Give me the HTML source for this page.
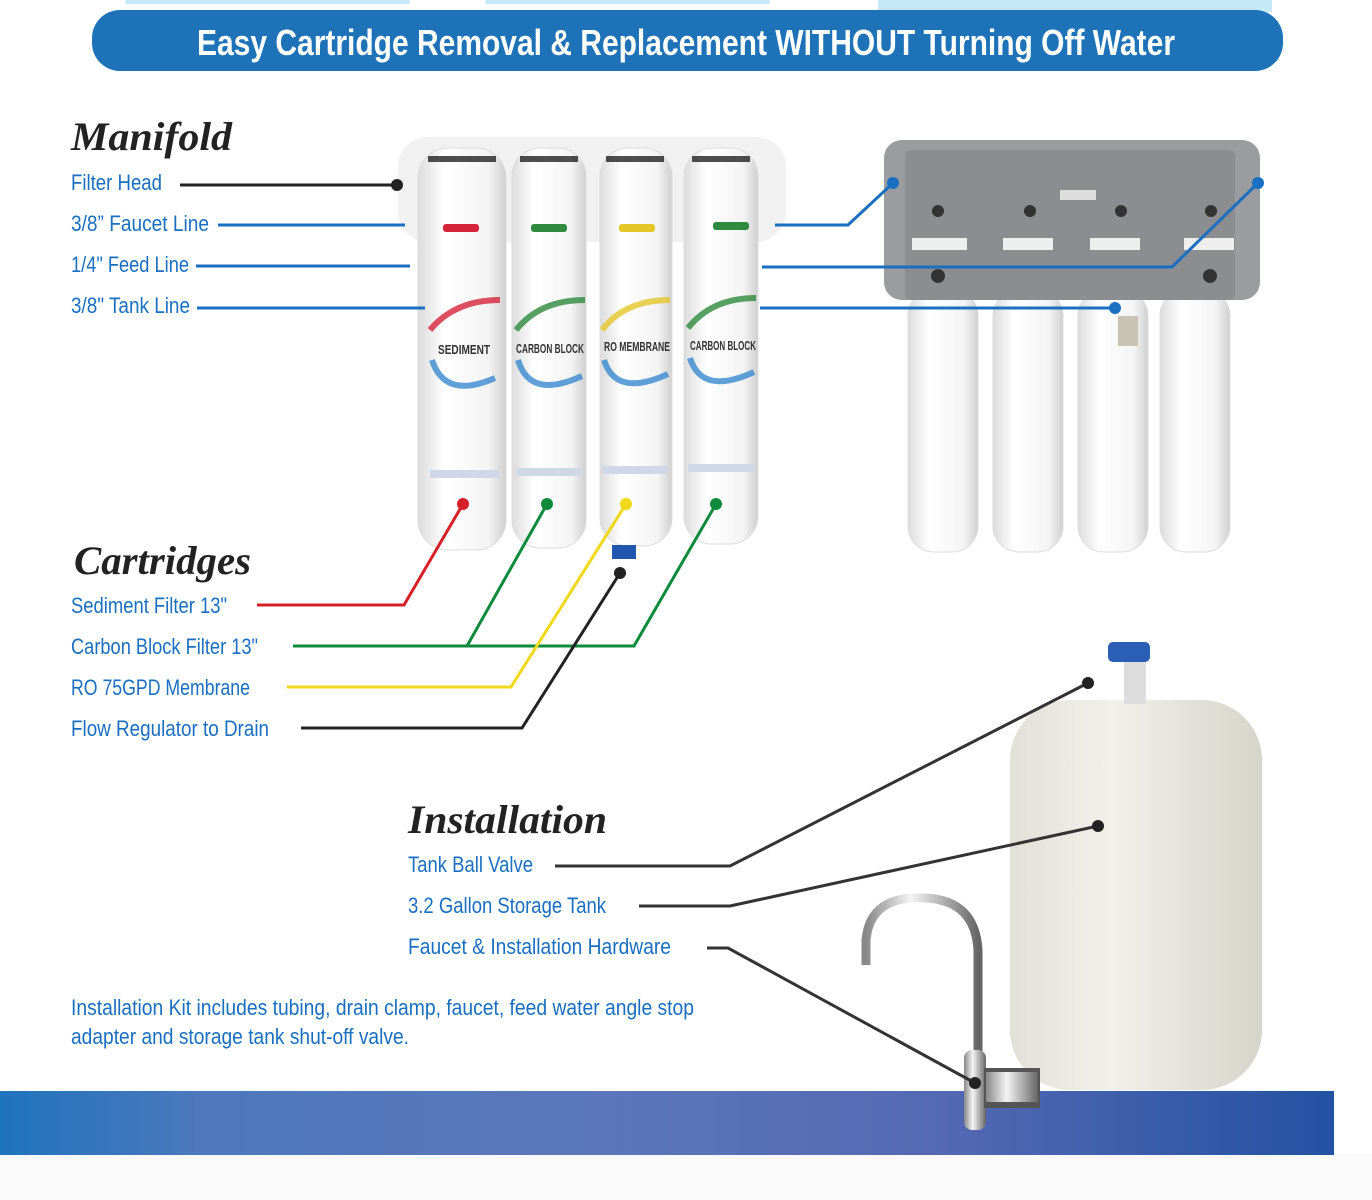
<!DOCTYPE html>
<html><head><meta charset="utf-8"><style>
html,body{margin:0;padding:0;background:#fff;}
body{width:1372px;height:1200px;overflow:hidden;position:relative;}
svg{position:absolute;left:0;top:0;}
.l{font-family:"Liberation Sans Narrow","Liberation Sans",sans-serif;font-size:22px;fill:#1a6fc0;}
.h{font-family:"Liberation Serif",serif;font-style:italic;font-weight:bold;font-size:40px;fill:#222;}
</style></head><body>
<svg width="1372" height="1200" viewBox="0 0 1372 1200">
<defs>
<linearGradient id="band" x1="0" x2="1"><stop offset="0" stop-color="#1e74bd"/><stop offset="0.15" stop-color="#4d78bd"/><stop offset="0.45" stop-color="#5b76ba"/><stop offset="0.7" stop-color="#5569b4"/><stop offset="1" stop-color="#2352a2"/></linearGradient>
<linearGradient id="cyl" x1="0" x2="1"><stop offset="0" stop-color="#dcdcdc"/><stop offset="0.3" stop-color="#fff"/><stop offset="0.8" stop-color="#f4f4f4"/><stop offset="1" stop-color="#cfcfcf"/></linearGradient>
<linearGradient id="tank" x1="0" x2="1"><stop offset="0" stop-color="#e2e1d8"/><stop offset="0.4" stop-color="#f1f0ea"/><stop offset="1" stop-color="#d6d5cb"/></linearGradient>
<linearGradient id="chrome" x1="0" x2="1"><stop offset="0" stop-color="#888"/><stop offset="0.4" stop-color="#f4f4f4"/><stop offset="1" stop-color="#666"/></linearGradient>
</defs>
<rect x="0" y="1154" width="1372" height="46" fill="#fafafa"/>
<rect x="125" y="0" width="285" height="4" rx="2" fill="#c7e8f8"/>
<rect x="485" y="0" width="285" height="4" rx="2" fill="#c7e8f8"/>
<rect x="878" y="0" width="394" height="12" fill="#c7e8f8"/>
<rect x="92" y="10" width="1191" height="61" rx="28" fill="#1d72b8"/>
<text x="686" y="55" text-anchor="middle" font-family="Liberation Sans Narrow, Liberation Sans, sans-serif" font-weight="bold" font-size="36" fill="#fff" textLength="978" lengthAdjust="spacingAndGlyphs">Easy Cartridge Removal &amp; Replacement WITHOUT Turning Off Water</text>

<!-- left manifold -->
<rect x="398" y="137" width="388" height="105" rx="30" fill="#f1f1f1"/>
<g fill="url(#cyl)" stroke="#ddd">
<rect x="418" y="148" width="88" height="402" rx="30"/>
<rect x="512" y="148" width="74" height="400" rx="28"/>
<rect x="600" y="148" width="72" height="398" rx="28"/>
<rect x="684" y="148" width="74" height="396" rx="28"/>
</g>
<g fill="#222" opacity="0.8"><rect x="428" y="156" width="68" height="6"/><rect x="520" y="156" width="58" height="6"/><rect x="606" y="156" width="58" height="6"/><rect x="692" y="156" width="58" height="6"/></g>
<rect x="443" y="224" width="36" height="8" rx="3" fill="#d6253b"/>
<rect x="531" y="224" width="36" height="8" rx="3" fill="#2f8a3f"/>
<rect x="619" y="224" width="36" height="8" rx="3" fill="#e6c72a"/>
<rect x="713" y="222" width="36" height="8" rx="3" fill="#2f8a3f"/>
<g fill="none" stroke-width="6" opacity="0.8">
<path d="M430 330 Q455 300 500 300" stroke="#d6253b"/><path d="M432 360 Q445 400 495 378" stroke="#3a8ad0"/>
<path d="M516 330 Q540 300 585 300" stroke="#2f8a3f"/><path d="M518 360 Q530 400 582 376" stroke="#3a8ad0"/>
<path d="M602 330 Q625 300 670 300" stroke="#e6c72a"/><path d="M604 360 Q616 398 668 374" stroke="#3a8ad0"/>
<path d="M688 328 Q712 298 756 298" stroke="#2f8a3f"/><path d="M690 358 Q702 396 754 372" stroke="#3a8ad0"/>
</g>
<g font-family="Liberation Sans Narrow, Liberation Sans, sans-serif" font-size="13" font-weight="bold" fill="#333" lengthAdjust="spacingAndGlyphs">
<text x="438" y="354" textLength="52" lengthAdjust="spacingAndGlyphs">SEDIMENT</text><text x="516" y="353" textLength="68" lengthAdjust="spacingAndGlyphs">CARBON BLOCK</text><text x="604" y="351" textLength="66" lengthAdjust="spacingAndGlyphs">RO MEMBRANE</text><text x="690" y="350" textLength="66" lengthAdjust="spacingAndGlyphs">CARBON BLOCK</text></g>
<g fill="#cfd8e6"><rect x="430" y="470" width="70" height="8"/><rect x="516" y="468" width="66" height="8"/><rect x="602" y="466" width="66" height="8"/><rect x="688" y="464" width="66" height="8"/></g>
<rect x="612" y="545" width="24" height="14" fill="#2257b0"/>

<!-- right manifold -->
<g fill="url(#cyl)" stroke="#ddd">
<rect x="908" y="290" width="70" height="262" rx="26"/><rect x="993" y="290" width="70" height="262" rx="26"/>
<rect x="1078" y="290" width="70" height="262" rx="26"/><rect x="1160" y="290" width="70" height="262" rx="26"/>
</g>
<rect x="884" y="140" width="376" height="160" rx="18" fill="#9a9c9f"/>
<rect x="905" y="150" width="330" height="150" rx="6" fill="#8b8d91"/>
<g fill="#fff" opacity="0.85"><rect x="912" y="238" width="55" height="12"/><rect x="1003" y="238" width="50" height="12"/><rect x="1090" y="238" width="50" height="12"/><rect x="1184" y="238" width="50" height="12"/></g>
<rect x="1060" y="190" width="36" height="10" fill="#ddd"/>
<g fill="#333"><circle cx="938" cy="211" r="6"/><circle cx="1030" cy="211" r="6"/><circle cx="1121" cy="211" r="6"/><circle cx="1211" cy="211" r="6"/><circle cx="938" cy="276" r="7"/><circle cx="1210" cy="276" r="7"/></g>
<rect x="1118" y="316" width="20" height="30" fill="#c9c3b4"/>

<!-- tank -->
<rect x="1010" y="700" width="252" height="390" rx="60" fill="url(#tank)"/>
<rect x="1124" y="660" width="22" height="44" fill="#ddd"/>
<rect x="1108" y="642" width="42" height="20" rx="5" fill="#2b5fb5"/>
<rect x="0" y="1091" width="1334" height="64" fill="url(#band)"/>
<!-- faucet -->
<path d="M866 965 L866 940 Q870 895 925 898 Q975 900 978 950 L978 1060" fill="none" stroke="url(#chrome)" stroke-width="9"/>
<rect x="964" y="1050" width="22" height="80" rx="8" fill="url(#chrome)"/>
<rect x="984" y="1068" width="56" height="40" fill="#555"/>
<rect x="986" y="1072" width="52" height="30" fill="url(#chrome)"/>

<!-- lines -->
<g fill="none" stroke-width="3">
<path d="M180 185H397" stroke="#222"/>
<path d="M218 225H405M775 225H848L893 183" stroke="#1a6fc0"/>
<path d="M196 266H410M762 267H1172L1258 183" stroke="#1a6fc0"/>
<path d="M197 308H425M760 308H1115" stroke="#1a6fc0"/>
<path d="M257 605H404L463 504" stroke="#d62027"/>
<path d="M293 646H634L716 504M467 646L547 504" stroke="#0e8a3c"/>
<path d="M287 687H511L626 504" stroke="#f0d81c"/>
<path d="M301 728H522L620 573" stroke="#222"/>
<path d="M555 866H730L1088 683" stroke="#333"/>
<path d="M639 906H730L1098 826" stroke="#333"/>
<path d="M707 948H728L975 1083" stroke="#333"/>
</g>
<circle cx="397" cy="185" r="6" fill="#222"/>
<g fill="#1a6fc0"><circle cx="893" cy="183" r="6"/><circle cx="1258" cy="183" r="6"/><circle cx="1115" cy="308" r="6"/></g>
<circle cx="463" cy="504" r="6" fill="#d62027"/>
<circle cx="547" cy="504" r="6" fill="#0e8a3c"/><circle cx="716" cy="504" r="6" fill="#0e8a3c"/>
<circle cx="626" cy="504" r="6" fill="#f0d81c"/>
<g fill="#222"><circle cx="620" cy="573" r="6"/><circle cx="1088" cy="683" r="6"/><circle cx="1098" cy="826" r="6"/><circle cx="975" cy="1083" r="6"/></g>

<!-- text -->
<text class="h" x="71" y="150" textLength="161" lengthAdjust="spacingAndGlyphs">Manifold</text>
<text class="l" x="71" y="190" textLength="91" lengthAdjust="spacingAndGlyphs">Filter Head</text>
<text class="l" x="71" y="231" textLength="138" lengthAdjust="spacingAndGlyphs">3/8” Faucet Line</text>
<text class="l" x="71" y="272" textLength="118" lengthAdjust="spacingAndGlyphs">1/4" Feed Line</text>
<text class="l" x="71" y="313" textLength="119" lengthAdjust="spacingAndGlyphs">3/8" Tank Line</text>
<text class="h" x="74" y="574" textLength="177" lengthAdjust="spacingAndGlyphs">Cartridges</text>
<text class="l" x="71" y="613" textLength="156" lengthAdjust="spacingAndGlyphs">Sediment Filter 13"</text>
<text class="l" x="71" y="654" textLength="187" lengthAdjust="spacingAndGlyphs">Carbon Block Filter 13"</text>
<text class="l" x="71" y="695" textLength="179" lengthAdjust="spacingAndGlyphs">RO 75GPD Membrane</text>
<text class="l" x="71" y="736" textLength="198" lengthAdjust="spacingAndGlyphs">Flow Regulator to Drain</text>
<text class="h" x="408" y="833" textLength="199" lengthAdjust="spacingAndGlyphs">Installation</text>
<text class="l" x="408" y="872" textLength="125" lengthAdjust="spacingAndGlyphs">Tank Ball Valve</text>
<text class="l" x="408" y="913" textLength="198" lengthAdjust="spacingAndGlyphs">3.2 Gallon Storage Tank</text>
<text class="l" x="408" y="954" textLength="263" lengthAdjust="spacingAndGlyphs">Faucet &amp; Installation Hardware</text>
<text class="l" x="71" y="1015" textLength="623" lengthAdjust="spacingAndGlyphs">Installation Kit includes tubing, drain clamp, faucet, feed water angle stop</text>
<text class="l" x="71" y="1044" textLength="338" lengthAdjust="spacingAndGlyphs">adapter and storage tank shut-off valve.</text>
</svg>
</body></html>
